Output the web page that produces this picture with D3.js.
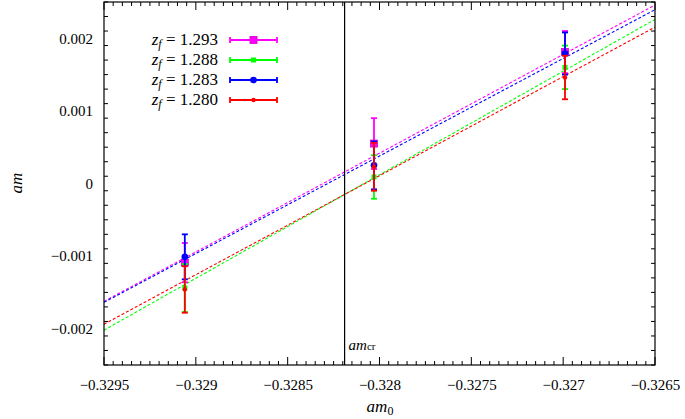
<!DOCTYPE html>
<html><head><meta charset="utf-8">
<script src="https://cdn.jsdelivr.net/npm/d3@7"></script>
<style>
body{margin:0;background:#fff;}
svg text{font-family:'Liberation Serif','Tinos','Times New Roman','DejaVu Serif','Noto Serif',serif !important;fill:#000;}
</style></head>
<body><svg id="c" width="685" height="419"></svg>
<script>
// ---- data ----
const seriesNames = ["1.293","1.288","1.283","1.280"];
const seriesColors = ["#ff00ff","#00ff00","#0000ff","#ff0000"];
const am0 = [-0.32906, -0.32803, -0.32699];
const amValues = [
  [-0.00109, 0.00055, 0.00181],
  [-0.00144, 0.00009, 0.00160],
  [-0.00101, 0.00025, 0.00179],
  [-0.00146, 0.00023, 0.00146]
];
const amErrors = [
  [0.00027, 0.00035, 0.00029],
  [0.00033, 0.00030, 0.00030],
  [0.00031, 0.00033, 0.00029],
  [0.00032, 0.00033, 0.00030]
];
// fit lines: value at left and right end of x range
const fitX = [-0.3295, -0.3265];
const fitY = [
  [-0.001623, 0.002458],
  [-0.002020, 0.002260],
  [-0.001637, 0.002394],
  [-0.001938, 0.002154]
];
const amCr = -0.32819;
const xTicks = [-0.3295,-0.329,-0.3285,-0.328,-0.3275,-0.327,-0.3265];
const xTickLabels = ["−0.3295","−0.329","−0.3285","−0.328","−0.3275","−0.327","−0.3265"];
const yTicks = [-0.002,-0.001,0,0.001,0.002];
const yTickLabels = ["−0.002","−0.001","0","0.001","0.002"];
const markerShape = ["bigsquare","square","circle","smallcircle"];

// ---- chart ----
const svg = d3.select("#c");
const L=104,R=655,T=2,B=365;
const x = d3.scaleLinear().domain([-0.3295,-0.3265]).range([L,R]);
const y = d3.scaleLinear().domain([-0.0025,0.0025]).range([B,T]);

svg.append("defs").append("clipPath").attr("id","clip")
  .append("rect").attr("x",L).attr("y",T).attr("width",R-L).attr("height",B-T);

// minor ticks
const xMinor = d3.range(0,61).map(i=>-0.3295+i*0.00005);
const yMinor = d3.range(0,26).map(i=>-0.0025+i*0.0002);
const tk = svg.append("g").attr("stroke","#000").attr("stroke-width",1);
xMinor.forEach(v=>{
  const isMaj = xTicks.some(t=>Math.abs(t-v)<1e-9);
  const len = isMaj?8:4;
  tk.append("line").attr("x1",x(v)).attr("x2",x(v)).attr("y1",B).attr("y2",B-len);
  tk.append("line").attr("x1",x(v)).attr("x2",x(v)).attr("y1",T).attr("y2",T+len);
});
yMinor.forEach(v=>{
  const isMaj = yTicks.some(t=>Math.abs(t-v)<1e-9);
  const len = isMaj?8:4;
  tk.append("line").attr("y1",y(v)).attr("y2",y(v)).attr("x1",L).attr("x2",L+len);
  tk.append("line").attr("y1",y(v)).attr("y2",y(v)).attr("x1",R).attr("x2",R-len);
});

// tick labels via axes
const xAxis = d3.axisBottom(x).tickValues(xTicks).tickSize(0).tickPadding(14)
  .tickFormat((d,i)=>xTickLabels[i]);
const gx = svg.append("g").attr("transform",`translate(0,${B})`).call(xAxis);
gx.select(".domain").remove();
gx.attr("font-family",null).attr("font-size",15);
const yAxis = d3.axisLeft(y).tickValues(yTicks).tickSize(0).tickPadding(11)
  .tickFormat((d,i)=>yTickLabels[i]);
const gy = svg.append("g").attr("transform",`translate(${L},0)`).call(yAxis);
gy.select(".domain").remove();
gy.attr("font-family",null).attr("font-size",15);

// fit lines
const plot = svg.append("g").attr("clip-path","url(#clip)");
fitY.forEach((fy,i)=>{
  plot.append("line").attr("x1",x(fitX[0])).attr("x2",x(fitX[1]))
    .attr("y1",y(fy[0])).attr("y2",y(fy[1]))
    .attr("stroke",seriesColors[i]).attr("stroke-width",1.1)
    .attr("stroke-dasharray","3,2");
});

// vertical line am_cr
svg.append("line").attr("x1",x(amCr)).attr("x2",x(amCr)).attr("y1",T).attr("y2",B)
  .attr("stroke","#000").attr("stroke-width",1.2);
const crt = svg.append("text").attr("x",x(amCr)+4).attr("y",350).attr("font-size",15);
crt.append("tspan").attr("font-style","italic").text("am");
crt.append("tspan").attr("font-size",11).text("cr");

function marker(g,shape,cx,cy,col){
  if(shape==="bigsquare") g.append("rect").attr("x",cx-3.5).attr("y",cy-3.5).attr("width",7).attr("height",7).attr("fill",col).attr("stroke","#d000d0").attr("stroke-width",0.8);
  else if(shape==="square") g.append("rect").attr("x",cx-2.5).attr("y",cy-2.5).attr("width",5).attr("height",5).attr("fill",col);
  else if(shape==="circle") g.append("circle").attr("cx",cx).attr("cy",cy).attr("r",3.3).attr("fill",col);
  else g.append("circle").attr("cx",cx).attr("cy",cy).attr("r",2.2).attr("fill",col);
}

// error bars + points
amValues.forEach((vals,i)=>{
  const g = svg.append("g");
  const col = seriesColors[i];
  vals.forEach((v,j)=>{
    const cx = x(am0[j]);
    const y1 = y(v+amErrors[i][j]), y2 = y(v-amErrors[i][j]);
    g.append("line").attr("x1",cx).attr("x2",cx).attr("y1",y1).attr("y2",y2).attr("stroke",col).attr("stroke-width",1.8);
    [y1,y2].forEach(yy=>g.append("line").attr("x1",cx-3).attr("x2",cx+3).attr("y1",yy).attr("y2",yy).attr("stroke",col).attr("stroke-width",1.8));
    marker(g,markerShape[i],cx,y(v),col);
  });
});

// border
svg.append("rect").attr("x",L).attr("y",T).attr("width",R-L).attr("height",B-T)
  .attr("fill","none").attr("stroke","#000").attr("stroke-width",1.2);

// legend
const legY = [40,60,80,100];
seriesNames.forEach((n,i)=>{
  const t = svg.append("text").attr("x",218).attr("y",legY[i]+5).attr("text-anchor","end").attr("font-size",17);
  t.append("tspan").attr("font-style","italic").text("z");
  t.append("tspan").attr("font-style","italic").attr("font-size",12).attr("dy",3).text("f");
  t.append("tspan").attr("dy",-3).text(" = "+n);
  const g = svg.append("g");
  const col = seriesColors[i];
  g.append("line").attr("x1",230).attr("x2",277).attr("y1",legY[i]).attr("y2",legY[i]).attr("stroke",col).attr("stroke-width",1.8);
  [230,277].forEach(xx=>g.append("line").attr("x1",xx).attr("x2",xx).attr("y1",legY[i]-3).attr("y2",legY[i]+3).attr("stroke",col).attr("stroke-width",1.8));
  marker(g,markerShape[i],253.5,legY[i],col);
});

// axis titles
const xt = svg.append("text").attr("x",380).attr("y",412).attr("text-anchor","middle").attr("font-size",17);
xt.append("tspan").attr("font-style","italic").text("am");
xt.append("tspan").attr("font-size",12).attr("dy",3).text("0");
svg.append("text").attr("transform","translate(22,183) rotate(-90)").attr("text-anchor","middle")
  .attr("font-size",17).attr("font-style","italic").text("am");
</script></body></html>
